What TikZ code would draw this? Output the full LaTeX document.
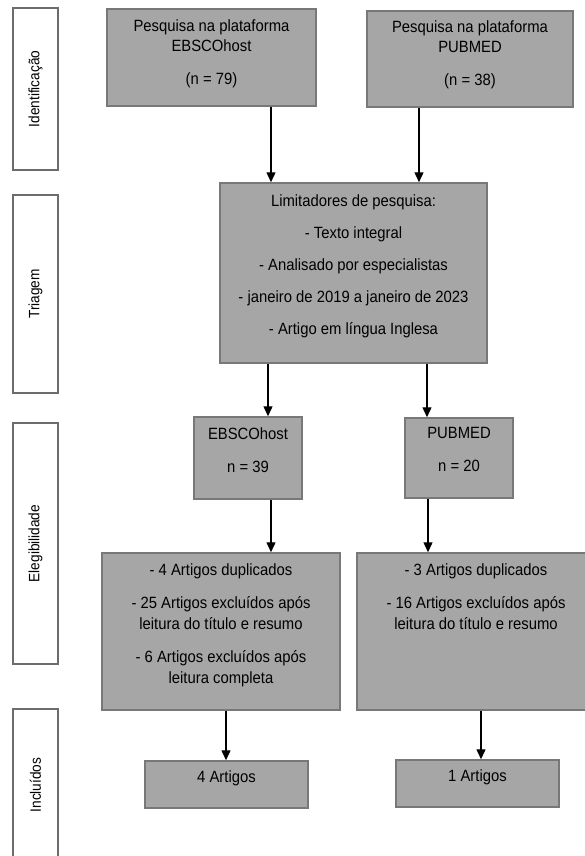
\documentclass[tikz,border=0pt]{standalone}
\usepackage{fontspec}
\setmainfont[FakeStretch=0.91]{Liberation Sans}
\usetikzlibrary{positioning,arrows.meta}
\definecolor{boxfill}{RGB}{166,166,166}
\definecolor{boxline}{RGB}{120,120,120}
\definecolor{sideline}{RGB}{108,108,108}
\tikzset{
  etapa/.style={draw=boxline, fill=boxfill, line width=1.5pt, inner sep=0pt},
  fase/.style={draw=sideline, fill=white, line width=1.5pt, rotate=90, minimum height=45pt, inner sep=0pt, font=\fontsize{15}{17}\selectfont},
  texto/.style={align=center, inner sep=0pt, font=\fontsize{16.3}{20.5}\selectfont},
  seta/.style={-{Triangle[length=10pt,width=9pt]}, line width=1.4pt}
}
\begin{document}
\begin{tikzpicture}[x=1pt,y=-1pt]
    \useasboundingbox (0,0) rectangle (584,856);
    % Fases (lado esquerdo)
    \node[fase, minimum width=162pt] (idf) at (35.5,89) {Identificação};
    \node[fase, minimum width=198pt] (tri) at (35.5,294) {Triagem};
    \node[fase, minimum width=241pt] (ele) at (35.5,543.5) {Elegibilidade};
    \node[fase, minimum width=152pt] (inc) at (35.5,785) {Incluídos};

    % Identificacao
    \node[etapa, minimum width=209pt, minimum height=97pt] (srcA) at (211.5,57.5) {};
    \node[texto, below=11pt of srcA.north] (srcAtxt) {Pesquisa na plataforma\\EBSCOhost\\[12.5pt](n = 79)};
    \node[etapa, minimum width=206pt, minimum height=96pt] (srcB) at (470,59) {};
    \node[texto, below=10pt of srcB.north] (srcBtxt) {Pesquisa na plataforma\\PUBMED\\[12.5pt](n = 38)};

    % Triagem
    \node[etapa, minimum width=267pt, minimum height=180pt] (limit) at (353.5,273) {};
    \node[texto, below=12pt of limit.north] (limittxt) {Limitadores de pesquisa:\\[11.5pt]- Texto integral\\[11.5pt]- Analisado por especialistas\\[11.5pt]- janeiro de 2019 a janeiro de 2023\\[11.5pt]- Artigo em língua Inglesa};

    % Elegibilidade
    \node[etapa, minimum width=108pt, minimum height=82pt] (ebA) at (248,458) {};
    \node[texto, below=11pt of ebA.north] (ebAtxt) {EBSCOhost\\[12.5pt]n = 39};
    \node[etapa, minimum width=108pt, minimum height=80pt] (pubA) at (459,458) {};
    \node[texto, below=10pt of pubA.north] (pubAtxt) {PUBMED\\[12.5pt]n = 20};
    \node[etapa, minimum width=238pt, minimum height=157pt] (eligA) at (221,631.5) {};
    \node[texto, below=11pt of eligA.north] (eligAtxt) {- 4 Artigos duplicados\\[13pt]- 25 Artigos excluídos após\\leitura do título e resumo\\[13pt]- 6 Artigos excluídos após\\leitura completa};
    \node[etapa, minimum width=238pt, minimum height=157pt] (eligB) at (476,631.5) {};
    \node[texto, below=11pt of eligB.north] (eligBtxt) {- 3 Artigos duplicados\\[13pt]- 16 Artigos excluídos após\\leitura do título e resumo};

    % Incluidos
    \node[etapa, minimum width=163pt, minimum height=47pt] (inclA) at (226.5,784.5) {};
    \node[texto, below=10pt of inclA.north] (inclAtxt) {4 Artigos};
    \node[etapa, minimum width=163pt, minimum height=47pt] (inclB) at (477.5,783.5) {};
    \node[texto, below=10pt of inclB.north] (inclBtxt) {1 Artigos};

    % Setas
    \coordinate (a1) at ([xshift=59.5pt]srcA.south);
    \coordinate (a2) at ([xshift=-51pt]srcB.south);
    \coordinate (a3) at ([xshift=-85.5pt]limit.south);
    \coordinate (a4) at ([xshift=73.5pt]limit.south);
    \coordinate (a5) at ([xshift=23pt]ebA.south);
    \coordinate (a6) at ([xshift=-31pt]pubA.south);
    \coordinate (a7) at ([xshift=5pt]eligA.south);
    \coordinate (a8) at ([xshift=5pt]eligB.south);
    \draw[seta] (a1) -- (a1 |- limit.north);
    \draw[seta] (a2) -- (a2 |- limit.north);
    \draw[seta] (a3) -- (a3 |- ebA.north);
    \draw[seta] (a4) -- (a4 |- pubA.north);
    \draw[seta] (a5) -- (a5 |- eligA.north);
    \draw[seta] (a6) -- (a6 |- eligB.north);
    \draw[seta] (a7) -- (a7 |- inclA.north);
    \draw[seta] (a8) -- (a8 |- inclB.north);
\end{tikzpicture}
\end{document}
